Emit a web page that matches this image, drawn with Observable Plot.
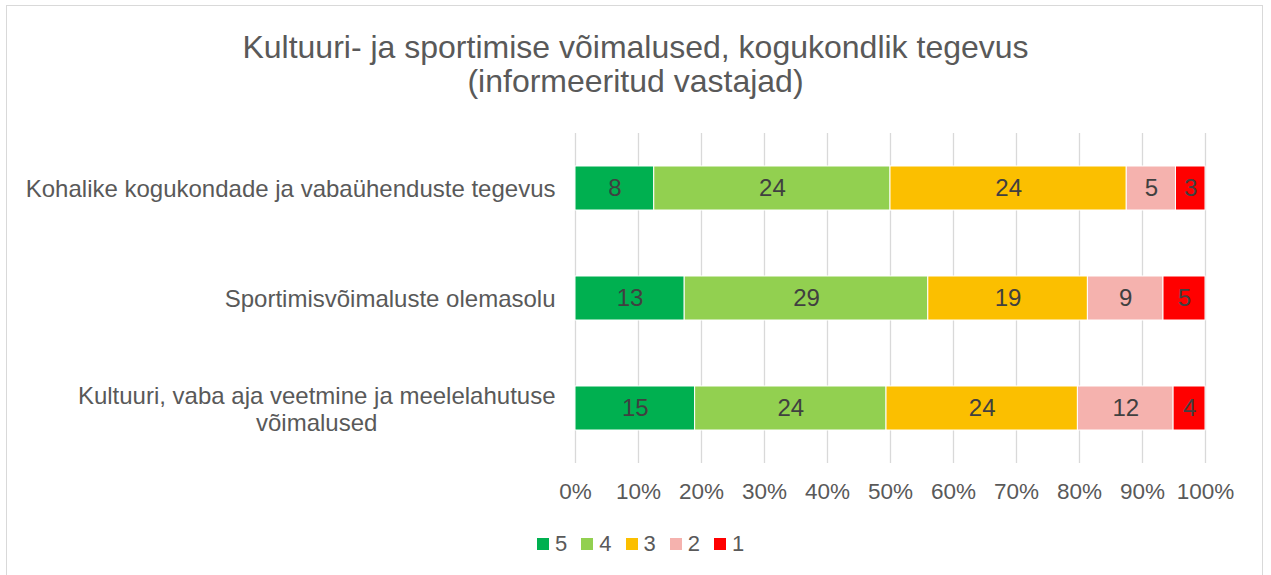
<!DOCTYPE html>
<html>
<head>
<meta charset="utf-8">
<script src="https://cdn.jsdelivr.net/npm/d3@7"></script>
<script src="https://cdn.jsdelivr.net/npm/@observablehq/plot@0.6"></script>
<style>
  html, body { margin: 0; padding: 0; background: #fff; }
  body { width: 1271px; height: 575px; position: relative; overflow: hidden; font-family: "Liberation Sans", Arial, sans-serif; }
  #frame { position: absolute; left: 6px; top: 5px; width: 1257px; height: 600px; border: 1px solid #d9d9d9; box-sizing: border-box; }
  #title { position: absolute; left: 0; top: 30px; width: 1271px; text-align: center; font-size: 32px; line-height: 34px; color: #595959; }
  #chart { position: absolute; left: 0; top: 120px; }
  #legend { position: absolute; top: 531px; left: 537px; display: flex; gap: 0; font-size: 22px; color: #595959; }
  .item { display: flex; align-items: center; margin-right: 14px; }
  .sw { width: 12px; height: 12px; margin-right: 6px; }
</style>
</head>
<body>
<div id="frame"></div>
<div id="title">Kultuuri- ja sportimise võimalused, kogukondlik tegevus<br>(informeeritud vastajad)</div>
<div id="chart"></div>
<div id="legend"></div>
<script>
const categories = [
  "Kohalike kogukondade ja vabaühenduste tegevus",
  "Sportimisvõimaluste olemasolu",
  "Kultuuri, vaba aja veetmine ja meelelahutuse võimalused"
];
const categoryLabels = [
  "Kohalike kogukondade ja vabaühenduste tegevus",
  "Sportimisvõimaluste olemasolu",
  "Kultuuri, vaba aja veetmine ja meelelahutuse\nvõimalused"
];
const ratings = ["5", "4", "3", "2", "1"];
const values5 = [8, 13, 15];
const values4 = [24, 29, 24];
const values3 = [24, 19, 24];
const values2 = [5, 9, 12];
const values1 = [3, 5, 4];
const colors = ["#00b050", "#92d050", "#fbbf00", "#f5b2ae", "#ff0000"];
const xTicks = [0, 0.1, 0.2, 0.3, 0.4, 0.5, 0.6, 0.7, 0.8, 0.9, 1];

const series = [values5, values4, values3, values2, values1];
const data = [];
categories.forEach((c, i) => {
  ratings.forEach((r, j) => data.push({category: c, rating: r, value: series[j][i]}));
});
const labelOf = new Map(categories.map((c, i) => [c, categoryLabels[i]]));

const stackOpts = {x: "value", y: "category", z: "rating", offset: "normalize", order: ratings};

const chart = Plot.plot({
  width: 1271,
  height: 383,
  marginLeft: 575,
  marginRight: 66,
  marginTop: 13,
  marginBottom: 40,
  style: {fontFamily: "'Liberation Sans', Arial, sans-serif", color: "#595959", background: "transparent"},
  x: {domain: [0, 1]},
  y: {domain: categories, paddingInner: 0.6, paddingOuter: 0.3},
  color: {domain: ratings, range: colors},
  marks: [
    Plot.gridX(xTicks, {stroke: "#d9d9d9", strokeOpacity: 1, strokeWidth: 1.3}),
    Plot.barX(data, Plot.stackX({...stackOpts, fill: "rating", stroke: "white", strokeWidth: 1, inset: 0})),
    Plot.text(data, Plot.stackX({...stackOpts, text: d => String(d.value), fill: "#404040", fontSize: 24})),
    Plot.axisX({ticks: xTicks, tickFormat: d3.format(".0%"), tickSize: 0, tickPadding: 20, fontSize: 22.5, color: "#595959", label: null}),
    Plot.axisY({tickFormat: d => labelOf.get(d), tickSize: 0, tickPadding: 20, fontSize: 24, color: "#595959", label: null, lineHeight: 1.12})
  ]
});
document.getElementById("chart").appendChild(chart);

// Center multi-line y labels the way the original wraps them
chart.querySelectorAll("g[aria-label='y-axis tick label'] text").forEach(t => {
  const spans = t.querySelectorAll("tspan");
  if (spans.length > 1) {
    let w = 0;
    spans.forEach(s => { w = Math.max(w, s.getComputedTextLength()); });
    t.setAttribute("text-anchor", "middle");
    spans.forEach(s => s.setAttribute("x", -w / 2));
  }
});

const legend = document.getElementById("legend");
ratings.forEach((r, i) => {
  const item = document.createElement("div");
  item.className = "item";
  item.innerHTML = `<span class="sw" style="background:${colors[i]}"></span><span>${r}</span>`;
  legend.appendChild(item);
});
</script>
</body>
</html>
